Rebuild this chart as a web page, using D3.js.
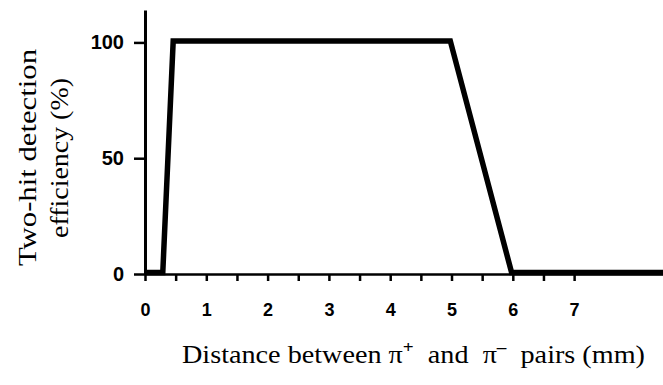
<!DOCTYPE html>
<html>
<head>
<meta charset="utf-8">
<script src="https://cdn.jsdelivr.net/npm/d3@7"></script>
<style>
  html, body { margin: 0; padding: 0; background: #fff; }
  svg { display: block; }
</style>
</head>
<body>
<svg id="chart" width="663" height="385"></svg>
<script>
// Two-hit detection efficiency versus pair separation
const distance = [0, 0.29, 0.46, 4.98, 5.98, 8.45];
const efficiency = [0, 0, 100, 100, 0, 0];
const xTickLabels = [0, 1, 2, 3, 4, 5, 6, 7];
const xMinorTicks = [0.5, 1.5, 2.5, 3.5, 4.5, 5.5, 6.5];
const yTickLabels = [0, 50, 100];

const svg = d3.select("#chart");
const x = d3.scaleLinear().domain([0, 8.45]).range([145, 663]);
const y = d3.scaleLinear().domain([0, 114]).range([274, 10]);

const tickFont = "'Liberation Sans', Arial, sans-serif";
const titleFont = "'Liberation Serif', 'DejaVu Serif', serif";

// x axis: labelled ticks at whole millimetres, plain ticks at halves
const xAxis = svg.append("g")
  .attr("transform", `translate(0,${y(0)})`)
  .call(d3.axisBottom(x).tickValues(xTickLabels.concat(xMinorTicks))
    .tickFormat(d => Number.isInteger(d) ? d : "")
    .tickSize(7).tickSizeOuter(0).tickPadding(22));
xAxis.select(".domain").attr("stroke", "#000").attr("stroke-width", 2.5);
xAxis.selectAll(".tick line").attr("stroke", "#000").attr("stroke-width", 2.5);
xAxis.selectAll(".tick text")
  .attr("font-family", tickFont).attr("font-weight", "bold")
  .attr("font-size", 18).attr("fill", "#000");

// y axis
const yAxis = svg.append("g")
  .attr("transform", `translate(${x(0)},0)`)
  .call(d3.axisLeft(y).tickValues(yTickLabels)
    .tickSize(11).tickSizeOuter(0).tickPadding(10));
yAxis.select(".domain").attr("stroke", "#000").attr("stroke-width", 3);
yAxis.selectAll(".tick line").attr("stroke", "#000").attr("stroke-width", 2.5);
yAxis.selectAll(".tick text")
  .attr("font-family", tickFont).attr("font-weight", "bold")
  .attr("font-size", 20).attr("fill", "#000");

// efficiency curve
const line = d3.line()
  .x((d, i) => x(distance[i]))
  .y(d => y(d) - 1.5);
svg.append("path")
  .datum(efficiency)
  .attr("d", line)
  .attr("fill", "none")
  .attr("stroke", "#000")
  .attr("stroke-width", 5.5)
  .attr("stroke-linejoin", "miter");

// y axis title (two lines)
const yTitle = svg.append("g")
  .attr("transform", "translate(0,158) rotate(-90)")
  .attr("font-family", titleFont)
  .attr("font-size", 26)
  .attr("fill", "#000");
yTitle.append("text")
  .attr("x", -108).attr("y", 36)
  .attr("textLength", 217).attr("lengthAdjust", "spacingAndGlyphs")
  .text("Two-hit detection");
yTitle.append("text")
  .attr("x", -80).attr("y", 68)
  .attr("textLength", 160).attr("lengthAdjust", "spacingAndGlyphs")
  .text("efficiency (%)");

// x axis title
const xTitle = svg.append("text")
  .attr("x", 182).attr("y", 363)
  .attr("textLength", 463).attr("lengthAdjust", "spacingAndGlyphs")
  .attr("font-family", titleFont)
  .attr("font-size", 25)
  .attr("fill", "#000");
xTitle.append("tspan").text("Distance between \u03C0");
xTitle.append("tspan").attr("dy", -10).attr("font-size", 17).attr("font-weight", "bold").text("+");
xTitle.append("tspan").attr("dy", 10).text("\u00A0\u00A0and\u00A0\u00A0\u03C0");
xTitle.append("tspan").attr("dy", -10).attr("font-size", 17).attr("font-weight", "bold").text("\u2013");
xTitle.append("tspan").attr("dy", 10).text("\u00A0\u00A0pairs (mm)");
</script>
</body>
</html>
